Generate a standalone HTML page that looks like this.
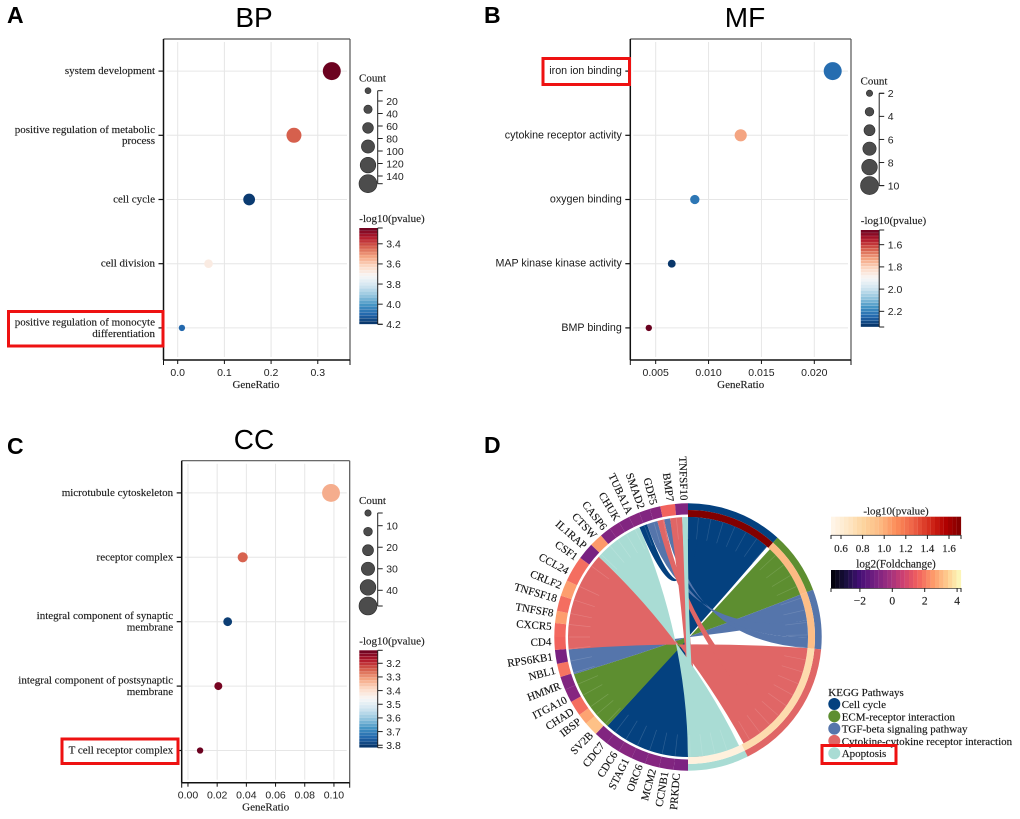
<!DOCTYPE html>
<html lang="en">
<head>
<meta charset="utf-8">
<title>Enrichment analysis: BP, MF, CC and KEGG chord</title>
<style>
html,body{margin:0;padding:0;background:#fff;}
#figure{display:block;width:1020px;height:819px;filter:blur(0.35px);}
.serif{font-family:"Liberation Serif",serif;stroke:#222;stroke-width:0.15px;}
.sans{font-family:"Liberation Sans",sans-serif;}
</style>
</head>
<body>
<svg id="figure" xmlns="http://www.w3.org/2000/svg" width="1020" height="819" viewBox="0 0 1020 819">
<rect width="1020" height="819" fill="#fff"/>
<g class="sans" font-weight="bold" font-size="23" fill="#000">
<text x="7" y="23">A</text>
<text x="484" y="23">B</text>
<text x="7" y="454">C</text>
<text x="484" y="453">D</text>
</g>
<g class="sans" font-size="28" fill="#000" text-anchor="middle">
<text x="254" y="27">BP</text>
<text x="745" y="27">MF</text>
<text x="254" y="449">CC</text>
</g>
</svg>
<script>
// ---------- BP data ----------
const bpCategories = ['system development','positive regulation of metabolic|process','cell cycle','cell division','positive regulation of monocyte|differentiation'];
const bpRatio = [0.33,0.249,0.153,0.066,0.009];
const bpLogP = [3.25,3.435,4.18,3.68,4.1];
const bpCount = [152,115,75,36,8];
const bpXTicks = [0,0.1,0.2,0.3];
const bpXLabels = ['0.0','0.1','0.2','0.3'];
const bpSizeTicks = [20,40,60,80,100,120,140];
const bpColorTicks = [3.4,3.6,3.8,4.0,4.2];
// ---------- MF data ----------
const mfCategories = ['iron ion binding','cytokine receptor activity','oxygen binding','MAP kinase kinase activity','BMP binding'];
const mfRatio = [0.02174,0.01304,0.0087,0.00652,0.00435];
const mfLogP = [2.24,1.73,2.22,2.33,1.47];
const mfCount = [10,6,4,3,2];
const mfXTicks = [0.005,0.010,0.015,0.020];
const mfXLabels = ['0.005','0.010','0.015','0.020'];
const mfSizeTicks = [2,4,6,8,10];
const mfColorTicks = [1.6,1.8,2.0,2.2];
// ---------- CC data ----------
const ccCategories = ['microtubule cytoskeleton','receptor complex','integral component of synaptic|membrane','integral component of postsynaptic|membrane','T cell receptor complex'];
const ccRatio = [0.098,0.0375,0.0272,0.0208,0.0083];
const ccLogP = [3.33,3.25,3.8,3.12,3.11];
const ccCount = [47,18,13,10,4];
const ccXTicks = [0,0.02,0.04,0.06,0.08,0.10];
const ccXLabels = ['0.00','0.02','0.04','0.06','0.08','0.10'];
const ccSizeTicks = [10,20,30,40];
const ccColorTicks = [3.2,3.3,3.4,3.5,3.6,3.7,3.8];
// ---------- KEGG chord data (angles in degrees, clockwise from top) ----------
const geneNames = ['PRKDC','CCNB1','MCM2','ORC6','STAG1','CDC6','CDC7','SV2B','IBSP','CHAD','ITGA10','HMMR','NBL1','RPS6KB1','CD4','CXCR5','TNFSF8','TNFSF18','CRLF2','CCL24','CSF1','IL1RAP','CTSW','CASP6','CHUK','TUBA1A','SMAD2','GDF5','BMP7','TNFSF10'];
const geneLabelAngle = [184.8,189.7,194.9,200.7,206.8,212.3,218.7,225,232.4,237.4,242.9,249.2,255.9,261.7,268,274.4,280,286.2,292,298.6,305.4,311.2,317,322.4,328.9,334.8,340.2,345.5,352.5,358.3];
const geneRingEdges = [180,186.2,192.5,198.7,205,211.2,217.4,223.6,229.7,234.4,241,246.8,252.6,258.4,264.4,270,276,281.3,288,295,306.3,313.6,319.4,324.2,329,333.8,338.6,343.4,348,354.4,360];
const geneFold = [-0.9,-0.8,-0.7,-0.8,-0.7,-0.8,-0.8,3.2,2.7,1.8,-0.7,-0.8,1.9,-1,1.6,1.7,2.6,1.8,2.6,1.8,-1,2.5,-0.8,-0.7,-0.8,-0.7,-0.8,-0.7,1.6,-0.8];
const pathwayNames = ['Cell cycle','ECM-receptor interaction','TGF-beta signaling pathway','Cytokine-cytokine receptor interaction','Apoptosis'];
const pathwayColors = ['#04417f','#5d8e30','#5575ab','#e06666','#a9dcd4'];
const pathwayStart = [0,42,69.3,95.3,153.5];
const pathwayEnd = [42,69.3,95.3,153.5,180];
const pathwayLogP = [1.7,0.96,0.94,0.75,0.57];
const ribbonPathway = [0,0,1,2,2,2,3,3,3,4,4];
const ribbonGeneStart = [180,336.1,222.2,251.9,340,348.5,264.1,345.2,351.4,312,357.2];
const ribbonGeneEnd = [222.2,340,251.9,264.1,345.2,351.4,312,348.5,357.2,336.1,360];
const ribbonPathStart = [0,0,43,69.3,82,90,95.3,136,178,154.8,180];
const ribbonPathEnd = [41.2,6,69.3,82,90,95.3,152.4,130,172,180,175];
const pvalueTicks = [0.6,0.8,1.0,1.2,1.4,1.6];
const foldTicks = [-2,0,2,4];
const foldLabels = ['\u22122','0','2','4'];

const NS = 'http://www.w3.org/2000/svg';
const svg = document.getElementById('figure');

function mk(tag, attrs, parent, name) {
  const node = document.createElementNS(NS, tag);
  for (const k in attrs) node.setAttribute(k, attrs[k]);
  
  
  (parent || svg).appendChild(node);
  return node;
}
function txt(str, attrs, parent, name) {
  const t = mk('text', attrs, parent, name);
  t.textContent = str;
  return t;
}
function lerpStops(stops, t) {
  t = Math.max(0, Math.min(1, t));
  const p = t * (stops.length - 1);
  const i = Math.min(stops.length - 2, Math.floor(p));
  const f = p - i;
  const a = stops[i], b = stops[i + 1];
  const c = [1, 3, 5].map(function (o) {
    const u = parseInt(a.substr(o, 2), 16), v = parseInt(b.substr(o, 2), 16);
    return Math.round(u + (v - u) * f);
  });
  return 'rgb(' + c.join(',') + ')';
}
const RDBU = ['#67001f','#b2182b','#d6604d','#f4a582','#fddbc7','#f7f7f7','#d1e5f0','#92c5de','#4393c3','#2166ac','#053061'];
const ORRD = ['#fff7ec','#fee8c8','#fdd49e','#fdbb84','#fc8d59','#ef6548','#d7301f','#b30000','#7f0000'];
const MAGMA = ['#000004','#180f3d','#440f76','#721f81','#9e2f7f','#cd4071','#f1605d','#fd9668','#feca8d','#fcfdbf'];

function scatterPanel(o) {
  const g = mk('g', {}, svg, o.id + '-dot-plot');
  const X = function (v) { return o.x0 + (v - o.xDomain[0]) / (o.xDomain[1] - o.xDomain[0]) * (o.x1 - o.x0); };
  const step = (o.y1 - o.y0) / o.categories.length;
  const Y = function (i) { return o.y0 + step / 2 + i * step; };
  const sizeScale = function (c) { return o.rRange[0] + (c - o.sizeDomain[0]) / (o.sizeDomain[1] - o.sizeDomain[0]) * (o.rRange[1] - o.rRange[0]); };
  const colorT = function (v) { return (v - o.colorDomain[0]) / (o.colorDomain[1] - o.colorDomain[0]); };

  o.xTicks.forEach(function (v) {
    mk('line', {x1: X(v), x2: X(v), y1: o.y0 + 3, y2: o.y1 - 3, stroke: '#e6e6e6', 'stroke-width': 1}, g, o.id + '-vertical-gridline');
  });
  o.categories.forEach(function (c, i) {
    mk('line', {x1: o.x0 + 3, x2: o.x1 - 3, y1: Y(i), y2: Y(i), stroke: '#e6e6e6', 'stroke-width': 1}, g, o.id + '-horizontal-gridline');
  });
  mk('line', {x1: o.x0, x2: o.x1, y1: o.y0, y2: o.y0, stroke: '#555', 'stroke-width': 1.2}, g, o.id + '-frame-top');
  mk('line', {x1: o.x1, x2: o.x1, y1: o.y0, y2: o.y1, stroke: '#555', 'stroke-width': 1.2}, g, o.id + '-frame-right');
  mk('line', {x1: o.x0, x2: o.x0, y1: o.y0, y2: o.y1, stroke: '#111', 'stroke-width': 1.5}, g, o.id + '-y-axis-line');
  mk('line', {x1: o.x0, x2: o.x1, y1: o.y1, y2: o.y1, stroke: '#111', 'stroke-width': 1.5}, g, o.id + '-x-axis-line');
  [o.x0, o.x1].forEach(function (x) {
    mk('line', {x1: x, x2: x, y1: o.y1, y2: o.y1 + 5, stroke: '#111', 'stroke-width': 1}, g, o.id + '-x-axis-end-tick');
  });
  o.xTicks.forEach(function (v, i) {
    mk('line', {x1: X(v), x2: X(v), y1: o.y1, y2: o.y1 + 4, stroke: '#111', 'stroke-width': 1}, g, o.id + '-x-tick');
    txt(o.xLabels[i], {x: X(v), y: o.y1 + 16, 'text-anchor': 'middle', class: 'sans', 'font-size': 10.5, fill: '#222'}, g, o.id + '-x-tick-label');
  });
  txt('GeneRatio', {x: o.xTitleX, y: o.y1 + 28, 'text-anchor': 'middle', class: 'serif', 'font-size': 11, fill: '#222'}, g, o.id + '-x-axis-title');

  o.categories.forEach(function (c, i) {
    mk('line', {x1: o.x0 - 5, x2: o.x0, y1: Y(i), y2: Y(i), stroke: '#111', 'stroke-width': 1.2}, g, o.id + '-y-tick');
    const lines = c.split('|');
    lines.forEach(function (ln, j) {
      const cy = lines.length === 1 ? Y(i) - 0.5 : Y(i) - 6 + j * 11.4;
      txt(ln, {x: o.x0 - 8.5, y: cy + 3.5, 'text-anchor': 'end', class: o.labelClass, 'font-size': o.labelSize, fill: '#1a1a1a'}, g, o.id + '-category-label');
    });
  });
  o.categories.forEach(function (c, i) {
    mk('circle', {cx: X(o.ratio[i]), cy: Y(i), r: sizeScale(o.count[i]), fill: lerpStops(RDBU, colorT(o.logP[i]))}, g, o.id + '-point');
  });

  // Count legend
  const lx = o.legendX, axis = lx + 9.7;
  const sy = function (c) { return o.sizeY[0] + (c - o.sizeDomain[0]) / (o.sizeDomain[1] - o.sizeDomain[0]) * (o.sizeY[1] - o.sizeY[0]); };
  txt('Count', {x: lx - 9, y: o.sizeY[0] - 9, class: 'serif', 'font-size': 11, fill: '#222'}, g, o.id + '-size-legend-title');
  for (let i = 0; i < 6; i++) {
    const c = o.sizeDomain[0] + (o.sizeDomain[1] - o.sizeDomain[0]) * i / 5;
    mk('circle', {cx: lx, cy: sy(c), r: sizeScale(c), fill: '#4c4c4c', stroke: '#2a2a2a', 'stroke-width': 0.6}, g, o.id + '-size-legend-circle');
  }
  mk('line', {x1: axis, x2: axis, y1: o.sizeY[0], y2: o.sizeY[1], stroke: '#222', 'stroke-width': 1}, g, o.id + '-size-legend-axis');
  [o.sizeDomain[0], o.sizeDomain[1]].forEach(function (c) {
    mk('line', {x1: axis, x2: axis + 5, y1: sy(c), y2: sy(c), stroke: '#222', 'stroke-width': 1}, g, o.id + '-size-legend-end-tick');
  });
  o.sizeTicks.forEach(function (c) {
    mk('line', {x1: axis, x2: axis + 5, y1: sy(c), y2: sy(c), stroke: '#222', 'stroke-width': 1}, g, o.id + '-size-legend-tick');
    txt(String(c), {x: axis + 8.5, y: sy(c) + 3.8, class: 'sans', 'font-size': 10.5, fill: '#222'}, g, o.id + '-size-legend-label');
  });

  // Colour bar
  const bx = lx - 8.7, bw = 18.4, by0 = o.barY[0], by1 = o.barY[1], bands = 32;
  txt('-log10(pvalue)', {x: bx, y: by0 - 6, class: 'serif', 'font-size': 11, fill: '#222'}, g, o.id + '-color-legend-title');
  const cy = function (v) { return by0 + colorT(v) * (by1 - by0); };
  for (let i = 0; i < bands; i++) {
    const h = (by1 - by0) / bands;
    mk('rect', {x: bx, y: by0 + i * h, width: bw, height: h - 0.15, fill: lerpStops(RDBU, (i + 0.5) / bands)}, g, o.id + '-colorbar-band');
  }
  mk('line', {x1: bx + bw, x2: bx + bw, y1: by0, y2: by1, stroke: '#222', 'stroke-width': 1}, g, o.id + '-colorbar-axis');
  [by0, by1].forEach(function (y) {
    mk('line', {x1: bx + bw, x2: bx + bw + 5, y1: y, y2: y, stroke: '#222', 'stroke-width': 1}, g, o.id + '-colorbar-end-tick');
  });
  o.colorTicks.forEach(function (v) {
    mk('line', {x1: bx + bw, x2: bx + bw + 5, y1: cy(v), y2: cy(v), stroke: '#222', 'stroke-width': 1}, g, o.id + '-colorbar-tick');
    txt(v.toFixed(1), {x: bx + bw + 8.5, y: cy(v) + 3.8, class: 'sans', 'font-size': 10.5, fill: '#222'}, g, o.id + '-colorbar-label');
  });
}

scatterPanel({id: 'bp', categories: bpCategories, ratio: bpRatio, logP: bpLogP, count: bpCount,
  xTicks: bpXTicks, xLabels: bpXLabels, sizeTicks: bpSizeTicks, colorTicks: bpColorTicks,
  x0: 163.5, x1: 350, y0: 39, y1: 360, xDomain: [-0.0304, 0.369], xTitleX: 256,
  labelClass: 'serif', labelSize: 11, sizeDomain: [3.5, 152.3], rRange: [3, 9], sizeY: [90.7, 183.7],
  legendX: 368, colorDomain: [3.243, 4.2], barY: [228, 324.3]});
scatterPanel({id: 'mf', categories: mfCategories, ratio: mfRatio, logP: mfLogP, count: mfCount,
  xTicks: mfXTicks, xLabels: mfXLabels, sizeTicks: mfSizeTicks, colorTicks: mfColorTicks,
  x0: 630.3, x1: 851, y0: 39, y1: 360, xDomain: [0.0026, 0.02347], xTitleX: 740.7,
  labelClass: 'sans', labelSize: 10.7, sizeDomain: [2, 10], rRange: [3.2, 9], sizeY: [93.3, 185.6],
  legendX: 869.5, colorDomain: [1.468, 2.341], barY: [230, 327]});
scatterPanel({id: 'cc', categories: ccCategories, ratio: ccRatio, logP: ccLogP, count: ccCount,
  xTicks: ccXTicks, xLabels: ccXLabels, sizeTicks: ccSizeTicks, colorTicks: ccColorTicks,
  x0: 181.7, x1: 349.7, y0: 460.7, y1: 782.7, xDomain: [-0.0043, 0.1108], xTitleX: 265.7,
  labelClass: 'serif', labelSize: 11, sizeDomain: [4.1, 47.3], rRange: [3.2, 9], sizeY: [513, 606],
  legendX: 368, colorDomain: [3.105, 3.818], barY: [650.3, 747.7]});

// ---------- Chord diagram ----------
(function chord() {
  const g = mk('g', {}, svg, 'kegg-chord-diagram');
  const cx = 688, cy = 637, R = 133.7, Rr = 120;
  const pt = function (a, r) {
    const t = a * Math.PI / 180;
    return [cx + r * Math.sin(t), cy - r * Math.cos(t)];
  };
  const f = function (p) { return p[0].toFixed(2) + ' ' + p[1].toFixed(2); };
  const sector = function (a0, a1, r0, r1) {
    return 'M' + f(pt(a0, r1)) + 'A' + r1 + ' ' + r1 + ' 0 0 1 ' + f(pt(a1, r1)) +
      'L' + f(pt(a1, r0)) + 'A' + r0 + ' ' + r0 + ' 0 0 0 ' + f(pt(a0, r0)) + 'Z';
  };
  const pScale = function (v) { return (v - 0.507) / 1.2; };
  const fScale = function (v) { return (v + 3.79) / 8.03; };

  pathwayNames.forEach(function (n, i) {
    mk('path', {d: sector(pathwayStart[i], pathwayEnd[i], 127, R), fill: pathwayColors[i]}, g, 'pathway-outer-band');
    mk('path', {d: sector(pathwayStart[i], pathwayEnd[i], 120, 127), fill: lerpStops(ORRD, pScale(pathwayLogP[i]))}, g, 'pathway-pvalue-band');
  });
  geneNames.forEach(function (n, i) {
    mk('path', {d: sector(geneRingEdges[i], geneRingEdges[i + 1], 122.5, R), fill: lerpStops(MAGMA, fScale(geneFold[i]))}, g, 'gene-foldchange-segment');
    const p = pt(geneLabelAngle[i], R + 3);
    txt(n, {x: p[0], y: p[1] + 3.5, 'text-anchor': 'end', class: 'serif', 'font-size': 11, fill: '#111',
      transform: 'rotate(' + (geneLabelAngle[i] - 270) + ' ' + p[0] + ' ' + p[1] + ')'}, g, 'gene-label');
  });
  ribbonPathway.forEach(function (pw, i) {
    const a1 = ribbonGeneStart[i], a2 = ribbonGeneEnd[i], b1 = ribbonPathStart[i], b2 = ribbonPathEnd[i];
    const c = (cx - 1) + ' ' + (cy + 3);
    const sweep = b2 > b1 ? 0 : 1;
    const d = 'M' + f(pt(a1, Rr)) + 'A' + Rr + ' ' + Rr + ' 0 0 1 ' + f(pt(a2, Rr)) +
      'Q' + c + ' ' + f(pt(b2, Rr)) + 'A' + Rr + ' ' + Rr + ' 0 0 ' + sweep + ' ' + f(pt(b1, Rr)) +
      'Q' + c + ' ' + f(pt(a1, Rr)) + 'Z';
    mk('path', {d: d, fill: pathwayColors[pw]}, g, 'chord-ribbon');
  });
  geneRingEdges.forEach(function (a) {
    const p0 = pt(a, Rr - 0.5), p1 = pt(a, Rr - 22);
    mk('line', {x1: p0[0], y1: p0[1], x2: p1[0], y2: p1[1], stroke: '#fff', 'stroke-opacity': 0.16, 'stroke-width': 0.7}, g, 'chord-gene-ray');
  });
  for (let a = 5; a < 180; a += 6) {
    const p0 = pt(a, Rr - 0.5), p1 = pt(a, Rr - 22);
    mk('line', {x1: p0[0], y1: p0[1], x2: p1[0], y2: p1[1], stroke: '#fff', 'stroke-opacity': 0.14, 'stroke-width': 0.7}, g, 'chord-pathway-ray');
  }

  // Colour bars
  const bands = 30, bx = 831, bw = 130;
  const pv = mk('g', {}, svg, 'pvalue-colorbar');
  txt('-log10(pvalue)', {x: 896, y: 514.5, 'text-anchor': 'middle', class: 'serif', 'font-size': 11, fill: '#222'}, pv, 'pvalue-colorbar-title');
  for (let i = 0; i < bands; i++) {
    mk('rect', {x: bx + i * bw / bands, y: 516.7, width: bw / bands + 0.1, height: 18.3, fill: lerpStops(ORRD, (i + 0.5) / bands)}, pv, 'pvalue-colorbar-band');
  }
  const pX = function (v) { return 841 + (v - 0.6) * 108; };
  mk('line', {x1: bx, x2: bx + bw, y1: 535.3, y2: 535.3, stroke: '#444', 'stroke-width': 0.8}, pv, 'pvalue-colorbar-axis');
  [bx, bx + bw].forEach(function (x) {
    mk('line', {x1: x, x2: x, y1: 535, y2: 539, stroke: '#222', 'stroke-width': 1}, pv, 'pvalue-colorbar-end-tick');
  });
  pvalueTicks.forEach(function (v) {
    mk('line', {x1: pX(v), x2: pX(v), y1: 535, y2: 539, stroke: '#222', 'stroke-width': 1}, pv, 'pvalue-colorbar-tick');
    txt(v.toFixed(1), {x: pX(v), y: 552, 'text-anchor': 'middle', class: 'serif', 'font-size': 11, fill: '#222'}, pv, 'pvalue-colorbar-label');
  });
  const fc = mk('g', {}, svg, 'foldchange-colorbar');
  txt('log2(Foldchange)', {x: 896, y: 567.5, 'text-anchor': 'middle', class: 'serif', 'font-size': 11.2, fill: '#222'}, fc, 'foldchange-colorbar-title');
  for (let i = 0; i < bands; i++) {
    mk('rect', {x: bx + i * bw / bands, y: 570, width: bw / bands + 0.1, height: 18.3, fill: lerpStops(MAGMA, (i + 0.5) / bands)}, fc, 'foldchange-colorbar-band');
  }
  const fX = function (v) { return 892.3 + v * 16.2; };
  mk('line', {x1: bx, x2: bx + bw, y1: 588.6, y2: 588.6, stroke: '#444', 'stroke-width': 0.8}, fc, 'foldchange-colorbar-axis');
  [bx, bx + bw].forEach(function (x) {
    mk('line', {x1: x, x2: x, y1: 588, y2: 592, stroke: '#222', 'stroke-width': 1}, fc, 'foldchange-colorbar-end-tick');
  });
  foldTicks.forEach(function (v, i) {
    mk('line', {x1: fX(v), x2: fX(v), y1: 588, y2: 592, stroke: '#222', 'stroke-width': 1}, fc, 'foldchange-colorbar-tick');
    txt(foldLabels[i], {x: fX(v), y: 604.5, 'text-anchor': 'middle', class: 'serif', 'font-size': 11.5, fill: '#222'}, fc, 'foldchange-colorbar-label');
  });

  // Legend
  const lg = mk('g', {}, svg, 'kegg-legend');
  txt('KEGG Pathways', {x: 828.3, y: 696, class: 'serif', 'font-size': 11, fill: '#111'}, lg, 'kegg-legend-title');
  const legendY = function (i) { return 704 + i * 12.3; };
  pathwayNames.forEach(function (n, i) {
    mk('circle', {cx: 834.3, cy: legendY(i), r: 6, fill: pathwayColors[i]}, lg, 'kegg-legend-swatch');
    txt(n, {x: 841.7, y: legendY(i) + 4, class: 'serif', 'font-size': 11, fill: '#111'}, lg, 'kegg-legend-entry');
  });
})();

// ---------- Red highlight boxes ----------
const boxA = mk('rect', {x: 8.5, y: 311.5, width: 154.5, height: 34.5, fill: 'none', stroke: '#ee1111', 'stroke-width': 3}, svg, 'highlight-monocyte-differentiation');
const boxB = mk('rect', {x: 543, y: 58.5, width: 86.5, height: 26, fill: 'none', stroke: '#ee1111', 'stroke-width': 3}, svg, 'highlight-iron-ion-binding');
const boxC = mk('rect', {x: 62, y: 739, width: 116, height: 24.5, fill: 'none', stroke: '#ee1111', 'stroke-width': 3}, svg, 'highlight-t-cell-receptor-complex');
const boxD = mk('rect', {x: 822, y: 745.5, width: 74, height: 18, fill: 'none', stroke: '#ee1111', 'stroke-width': 3}, svg, 'highlight-apoptosis');
</script>
</body>
</html>
